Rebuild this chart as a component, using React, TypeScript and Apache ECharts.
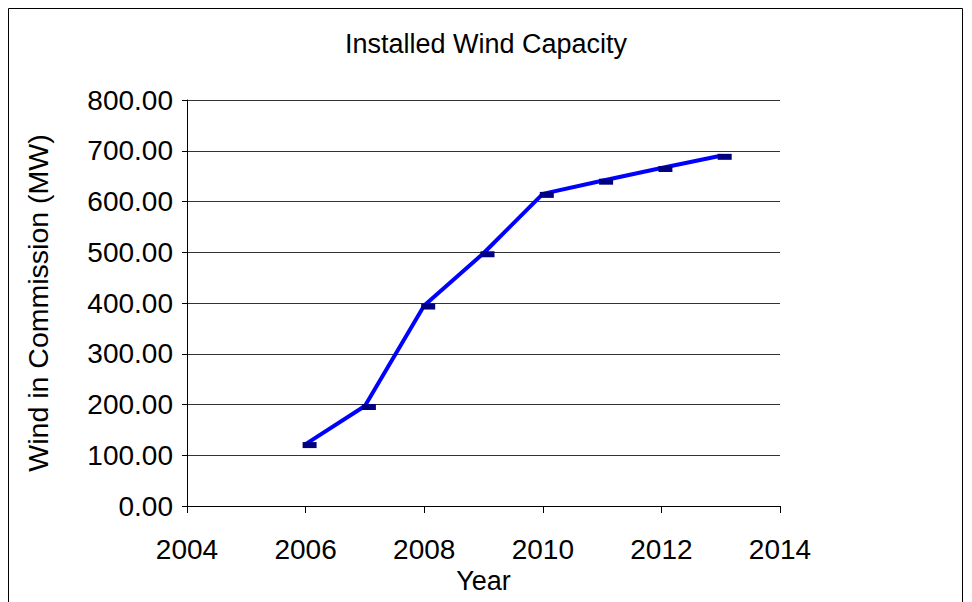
import React, { useEffect, useRef } from "react";
import * as echarts from "echarts";

// Installed wind capacity by year (MW)
const years = [2006, 2007, 2008, 2009, 2010, 2011, 2012, 2013];
const capacityMW = [122, 197, 395, 498, 615, 641, 666, 690];

const xTicks = { min: 2004, max: 2014, interval: 2 };
const yTicks = { min: 0, max: 800, interval: 100 };

const FONT = "'Liberation Sans', Arial, sans-serif";

export default function App() {
  const ref = useRef<HTMLDivElement>(null);

  useEffect(() => {
    document.body.style.margin = "0";
    if (!ref.current) return;
    const chart = echarts.init(ref.current, null, { renderer: "svg" });
    const points = years.map((y, i) => [y, capacityMW[i]]);

    chart.setOption({
      animation: false,
      backgroundColor: "#ffffff",
      textStyle: { fontFamily: FONT, color: "#000" },
      title: {
        text: "Installed Wind Capacity",
        left: "center",
        top: 25,
        textStyle: { fontFamily: FONT, fontSize: 27, fontWeight: "normal", color: "#000" },
      },
      graphic: [
        {
          type: "rect",
          shape: { x: 8.5, y: 8.5, width: 954, height: 620 },
          style: { fill: "none", stroke: "#000", lineWidth: 1 },
          silent: true,
        },
      ],
      grid: { left: 187, right: 192, top: 100, bottom: 96 },
      xAxis: {
        type: "value",
        min: xTicks.min,
        max: xTicks.max,
        interval: xTicks.interval,
        name: "Year",
        nameLocation: "middle",
        nameGap: 59,
        nameTextStyle: { fontFamily: FONT, fontSize: 27, color: "#000" },
        axisLine: { show: true, lineStyle: { color: "#000", width: 1 } },
        axisTick: { show: true, length: 7, inside: false, lineStyle: { color: "#000" } },
        axisLabel: {
          fontFamily: FONT,
          fontSize: 28,
          color: "#000",
          margin: 29,
          formatter: (v: number) => String(v),
        },
        splitLine: { show: false },
      },
      yAxis: {
        type: "value",
        min: yTicks.min,
        max: yTicks.max,
        interval: yTicks.interval,
        name: "Wind in Commission (MW)",
        nameLocation: "middle",
        nameGap: 135,
        nameTextStyle: { fontFamily: FONT, fontSize: 28.5, color: "#000" },
        axisLine: { show: true, lineStyle: { color: "#000", width: 1 } },
        axisTick: { show: true, length: 5, inside: false, lineStyle: { color: "#000" } },
        axisLabel: {
          fontFamily: FONT,
          fontSize: 28,
          color: "#000",
          margin: 14,
          formatter: (v: number) => v.toFixed(2),
        },
        splitLine: { show: true, lineStyle: { color: "#333", width: 1 } },
      },
      series: [
        {
          type: "line",
          data: points,
          lineStyle: { color: "#0000ff", width: 4 },
          itemStyle: { color: "#000080" },
          symbol: "rect",
          symbolSize: [14, 6],
          symbolOffset: [4, 1],
          showSymbol: true,
          z: 3,
        },
      ],
    });

    return () => chart.dispose();
  }, []);

  return (
    <div
      ref={ref}
      style={{ position: "absolute", left: 0, top: 0, width: 972, height: 602 }}
    />
  );
}
